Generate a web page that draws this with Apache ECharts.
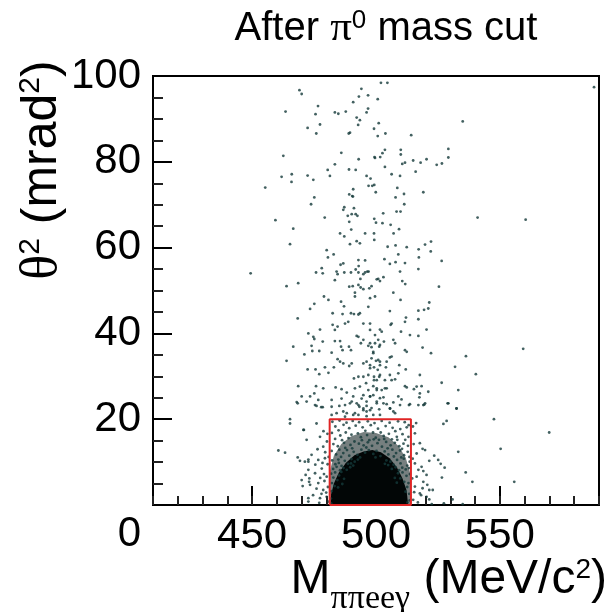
<!DOCTYPE html>
<html><head><meta charset="utf-8">
<script src="https://cdn.jsdelivr.net/npm/echarts@6/dist/echarts.min.js"></script>
<style>html,body{margin:0;padding:0;background:#fff}#c{width:616px;height:612px}</style>
</head><body><div id="c"></div>
<script>
// ---- data ----
const xRange = [410, 590];
const yRange = [0, 100];
const xTickLabels = [450, 500, 550];
const yTickLabels = [0, 20, 40, 60, 80, 100];
const cutBox = [[481.3, 0], [481.3, 20], [514.1, 20], [514.1, 0], [481.3, 0]];
// outline of the saturated (solid black) core of the distribution
const coreOutline = [[481.6,0],[481.9,2.5],[483,5],[485,7.5],[487.8,9.8],[491.3,11.6],[495,12.5],[498.5,12.8],[502,12.3],[505.5,10.9],[508.4,8.8],[510.7,6.2],[512.3,3.5],[513,0]];
// outline of the dense (partly filled) region around the core
const haloOutline = [[481.4,0],[481.4,8],[483,11.5],[486,14.2],[490,16],[495,17],[500,16.8],[505,15.8],[509,13.8],[512,11],[514,7],[514,0]];
// individually resolved events
const upperPoints = [[469.1,96.7],[470,95.8],[494.1,97],[493.1,95.2],[496.8,95.5],[490.8,93.9],[500.7,94.6],[476.6,93],[463.5,91.7],[475.6,91.1],[483.4,91.5],[484.8,91.2],[487.8,91.7],[496.8,92.4],[496.2,91.5],[492.2,90.3],[493.5,89.7],[492.8,88.6],[501.1,89],[499.2,87.7],[503.8,86.6],[500.7,86],[477.4,88.7],[472.4,87.9],[475.9,86.6],[489.5,86.8],[489,86.6],[514.2,86.2],[502,98.4],[504.6,98.4],
[462.6,81.4],[486,82.1],[493,80.6],[499.4,81.1],[499.6,80.9],[501.7,81.1],[502.6,82],[503.6,82.8],[510,82.8],[510,81.7],[503.6,78.8],[510.6,79.5],[511.7,79.8],[515,80.3],[518,79.8],[520.4,80.6],[524.5,79.3],[526.6,79.6],[529.2,81],[529.2,83],[516,77.7],[483.4,79.4],[480.5,78.1],[481.4,76.7],[489.1,78.2],[491.8,78.1],[466,77.1],[465.9,75.3],[461.9,76.5],[472.4,76.8],[474.7,75.8],[496.2,76.7],[497.8,76.1],[498.5,74.4],[497,74.4],[499.3,74.6],[506.3,77.1],[509.7,76.7],[508.6,73.9],[511.3,72.5],[507.9,71.7],[511.4,70.1],[508.3,68.4],[509.9,68.4],[519.1,72.9],[455.3,74],[475.1,71.7],[473.8,70.1],[489.2,72.4],[490.4,72],[490.7,71.9],[490.8,73.6],[499.9,72.9],[487.2,69.4],[486.8,68.8],[488.6,67.4],[491.1,69.2],[490.2,67.8],[491.8,67.8],[492.5,67.4],[489.2,66],[499.3,66.7],[500,65.8],[502.9,68],[502.6,65.7],[505.9,65.3],[479.3,67],[459.4,66.4],[466.6,64.4],[485.5,63.3],[487.2,62.6],[490,64.2],[489.5,60.8],[492.2,61.5],[493.5,61],[495.6,63.3],[499.2,63.3],[499.3,61.8],[504.7,60.2],[507.9,60.5],[507.1,63.3],[509.3,64.3],[512.4,60.1],[509,58.4],[517.2,59.6],[517.3,57.7],[519.8,60.7],[522.2,61.4],[522.1,59.1],[526.5,56.9],[465.3,60.8],[480.1,59.4],[482.9,58.4],[480.6,57.7],[485.7,56],[486.8,56.3],[492.9,57.1],[493,55.7],[495.6,57],[492.9,54.2],[495.6,54.2],[497,54.4],[503.4,57.3],[505.6,56.2],[507.9,56.6],[511.7,56.4],[509.7,54.4],[503,53.1],[517.1,55],[449.4,54],[475.8,54.2],[478.1,55.2],[478.5,54],[484.1,54.4],[484.5,53.8],[487.2,54.2],[489.9,54.2],[491.8,54.9],[493.7,52.7],[494.9,53.8],[496.5,54.4],[500.3,52.6],[500.9,52.7],
[588,97.4],[535,89.4],[541,67],[560.4,66.5]];
const middlePoints = [[463.9,51],[468.6,51.7],[475.1,46.9],[473.4,45.7],[479,48.6],[480.8,47.8],[483.4,52.4],[489.2,50.9],[490.6,51],[492.9,51.3],[493.8,50.7],[498.2,51],[501.6,52.2],[485.9,47.4],[487.1,46.3],[491.5,48.6],[491.5,49.5],[494.9,50.3],[497.3,50.5],[468.4,43.5],[482.5,44.7],[486.5,44.5],[487.5,42.3],[488.8,42.7],[489.9,44.7],[491.1,44.5],[492.9,44.4],[493.5,44.7],[494.9,42.3],[497.6,42.3],[496.9,46.2],[497.6,48.2],[482.5,42],[484.5,41.6],[483.4,40.8],[477.4,40.9],[472.7,40],[474.7,39.2],[475.1,38.7],[474,37.1],[478.5,38.1],[466.6,36.9],[483.4,38.2],[485.5,38.2],[485.9,36.9],[486.5,36.1],[489.1,36.9],[489.9,36.1],[492.2,39.4],[492.9,39.2],[494.9,38.5],[493.9,37.7],[496.9,37.1],[497.6,37.7],[498.2,36.8],[498.9,35.4],[500.9,38.5],[501.6,37.3],[471.1,35.1],[474.3,35.9],[477.1,35.9],[463.9,33.6],[482.1,35.5],[484.5,34],[485.5,33.4],[486.8,33],[483,32.1],[489.2,32.4],[490.2,33],[494.9,33],[496.2,33.4],[497.6,32.6],[499.2,32.1],[501.6,32.6],[500.9,33.8],[498.2,34.2],[472.4,31.6],[475.6,31.6],[479.4,32.1],[477.1,30.5],[480.8,30.8],[491.1,29.5],[492.9,29.9],[494.9,29.9],[496.9,30.3],[499.2,29.1],[500.3,29.1],[501.3,29.9],[468.6,27.7],[475.8,27.7],[475.1,26],[478.7,27.2],[483.7,27.4],[486.1,27],[488.2,26.2],[491.5,27.2],[493.5,27.6],[496,28.4],[496.9,26.8],[498.9,27.7],[494.9,25.6],[500.3,27.2],[470,25.3],[473.4,25.3],[476.7,24.5],[482.1,24.5],[468,24],[476,23.1],[478.5,22.8],[482.1,22.9],[485.2,23.1],[487.5,23.3],[490.2,24.1],[492.2,23.7],[493.3,22.9],[494.9,22.1],[496.2,23.1],[498.2,22.6],[500.3,23.7],[501.3,22.3],[486.1,24.8],[490.8,25.3],[494.2,24.8],[497.6,25.3],[488.2,21.4],[491.5,21.4],[492.9,21],[496.2,21.8],[498.9,21],
[525.4,50.9],[510.6,52.2],[511.8,51.5],[507,49.5],[499.6,48.6],[509.9,47.8],[517.1,45.3],[519.4,45.5],[521.1,45.8],[521.5,47.2],[505.6,45.2],[511.7,42.7],[512.1,43.7],[506.3,42.3],[505.9,42],[517.1,43.3],[510.1,40.4],[513.7,39.6],[517.1,39.4],[520.4,40.9],[502.3,40.4],[501.6,40.9],[499.6,39.6],[497.6,40.8],[503.2,38.1],[507,38.5],[507.7,37.7],[501.3,36.9],[511.7,36.1],[512.4,35.7],[518.8,36.7],[522.2,35.4],[559.4,36.4],[536.3,34.7],[499.6,37.7],[498.9,35.7],[500,33.6],[501.6,33.4],[504.3,33.4],[505.6,34.4],[506.3,34.6],[504,32.1],[509.4,32.6],[512,31.6],[509,30.7],[517.7,30.3],[531.9,32.2],[540.3,30.5],[500.7,31.5],[501.6,30.3],[497.6,31.9],[499.2,29.9],[505.6,30.3],[506.3,29.1],[507.7,29.3],[503.6,29.1],[511.7,27.7],[512.4,27.4],[515.3,27],[516.4,27.6],[518.4,27.7],[521.1,26.4],[517.7,26],[517.5,25.1],[526.5,28.5],[533.2,26.8],[503.6,27.2],[502.3,26.8],[504.3,27.2],[500.3,26.8],[498.9,25.6],[497.6,25.3],[501.6,24.9],[503,25.1],[500.3,24.1],[504.3,23.5],[509,25.3],[510.3,24.6],[519.1,23.3],[513.3,23.3],[507,23.9],[505.6,22.5],[507,21.8],[528.9,23.7],[532.5,22.5],[547.6,20],
[475.4,23.3],[477.9,22.8],[482.1,21],[484.1,21.4],[486.8,21.8],[489.5,23.7],[492.9,23.3],[494.9,22.5],[496.2,24.1],[497.6,22.1],[503,23.7],[505.7,22.5],[509.7,23.3],[513.7,23.5],[517.1,23.3],[519.8,23.7],[490.8,21],[501.6,21],[507.7,21.4],[496.2,20.7],[487.5,20.6]];
const lowerPoints = [[468.4,23.7],[472,24.1],[465.3,20],[465.3,19],[470.9,17.5],[460.6,12.7],[463.3,12.2],[468.4,11.1],[469.3,10.3],[472.7,10.6],[472.7,10.1],[471.6,7],[473.1,6.2],[473,5.4],[470.4,4.4],[472.7,1.6],[472.7,0.8],
[519.5,23.4],[529.2,23.7],[532.5,22.5],[527.2,18.9],[528.5,19.6],[569.9,16.9],[518.8,13.1],[533.2,12.4],[550.3,13.1],[523.5,11.5],[521.5,10.3],[525.1,10.5],[526.1,9.6],[527.7,8.7],[519.1,7.9],[520.4,7],[536.2,7.6],[538.9,5.4],[526.6,6.4],[555.8,5.4],[520.7,4.7],[518.8,3.9],[521.5,3.5],[522.9,3.5],[518.2,2.3],[521.5,1.3],[530.9,1.3],[527.4,0.4],[535,0.2],[522.5,0.2],
[470.7,17.5],[476,19],[472,15.2],[477.4,15.9],[478.7,13.6],[474,11.7],[476.7,10.5],[479.4,10.9],[472.7,8.2],[475.4,7.4],[478.1,8.5],[480.1,6.6],[473.4,4.7],[476.7,5.1],[478.7,3.5],[474.6,2.3],[477.4,1.6],[480.1,1.9],[471.3,10.1],[470,5.8],
[479.5,12.3],[480.5,9.5],[479,7.2],[480.6,4.2],[479.2,5.6],[478,2.6],[480.8,0.8],[476,3.8],[477.5,6.3],[480.2,14.8],[478.8,17.2],[476.4,13],[479.9,2.9],[477.1,0.5],[475.5,9.4],[480.9,11.2],[478.4,9.8],[480.4,16.6],
[515.7,16.7],[517.7,14.4],[516.4,12],[519.8,12.8],[515.7,9.7],[518.4,8.9],[516.4,6.6],[519.1,5.4],[515.7,4.3],[517.7,2.7],[520.4,1.9],[515,1.2],[517.1,8.2],[514.8,10.8],[515.4,3],[514.6,6.2],[516.9,0.6],[515.2,14.2],[514.9,18.3],[516.2,19.1]];
const boxPoints = [[482.4,19.4],[485.3,19.7],[488.1,19.2],[490.6,19.6],[493.2,19.3],[496.7,19.5],[499.4,19.1],[502.3,19.6],[505.5,19.2],[508.9,19.5],[511.6,19.3],[513.2,18.6],
[483.6,18.3],[486.9,18.7],[489.2,17.9],[491.8,18.5],[494.6,18.1],[497.9,18.6],[500.8,17.8],[503.9,18.4],[506.7,18],[509.8,17.7],[512.4,18.1],[484.9,17.4],[495.7,17.3],[501.9,16.9],[507.8,17.2],
[482.2,16.8],[485.6,16.2],[487.8,16.9],[490.1,16.4],[492.7,16.7],[493.9,15.8],[496.4,16.3],[498.8,16.9],[499.9,15.7],[503.1,16.1],[505.2,16.6],[508.4,15.9],[510.7,16.5],[513.1,15.9],[488.9,15.6],[486.3,15.1],[483.5,15.4],[511.8,15.2],[506.4,15.3],[501.2,15.2],[497.3,15.1],
[482.8,14.2],[484.6,13.7],[487.1,14.5],[489.7,14],[491.3,14.8],[493.1,14.3],[495,13.9],[496.7,14.6],[498.4,13.8],[500.6,14.4],[502.4,13.6],[504.1,14.7],[505.9,13.9],[507.6,14.5],[509.4,13.7],[511.1,14.3],[512.9,13.8],[490.4,13.2],[494.3,15.1],[499.1,15.3],[503.3,15.4],[508.6,15.2],
[482.1,12.6],[483.9,11.8],[485.2,12.9],[486.8,12.1],[488.3,12.8],[489.2,11.5],[491,12.4],[492.5,11.7],[494.1,12.9],[495.6,12.2],[497.1,12.8],[498.9,11.9],[500.2,12.6],[501.8,11.4],[503.5,12.5],[505,11.8],[506.6,12.9],[508.1,12.1],[509.7,12.7],[511.3,11.6],[512.8,12.4],[513.5,11.2],[487.6,13.3],[496.1,13.4],[504.7,13.2],[510.5,13.1],[485.9,11.2],[493.6,11.1],[499.8,11.1],[507.2,11.3],
[482.3,10.4],[483.6,9.5],[484.8,10.6],[486.1,9.1],[487.4,10.3],[488.7,9.6],[490.1,10.7],[491.4,10.1],[492.7,10.6],[504.2,10.4],[505.8,10.1],[507.1,9.4],[508.5,10.5],[509.9,9.7],[511.2,10.8],[512.6,9.2],[513.6,10.1],[482.7,8.4],[484.1,8.9],[485.5,8.1],[486.9,8.6],[488.2,8.2],[489.6,8.8],[506.4,8.4],[507.9,8.8],[509.3,8.1],[510.6,8.7],[512,8.3],[513.3,8.6],[485,9.8],[510.2,11.1],
[481.9,7.3],[482.8,6.4],[483.5,7.6],[484.4,5.8],[485.1,6.9],[486,7.7],[482.2,5.1],[483.3,4.4],[484.7,4.1],[508.9,7.4],[509.8,6.2],[510.7,7.6],[511.4,5.4],[512.3,6.8],[513.1,5.1],[513.7,7.2],[512.6,4.2],[511.9,3.1],[513.4,2.6],[482,3.2],[481.8,1.5],[513.6,1.1],[512.7,0.6],[481.9,0.4],[487.1,6.1],[507.6,6.3],[508.4,5.2],[486.4,4.9],[489.9,9.7],[490.8,9.2],[503.6,9.6],[504.9,9.3]];

// ---- chart ----
const FONT = 'Liberation Sans';
const SERIF = 'Liberation Serif';
const chart = echarts.init(document.getElementById('c'), null, {renderer: 'canvas'});
function polygonSeries(outline, fill) {
  return {
    type: 'custom', coordinateSystem: 'cartesian2d', silent: true, z: 1,
    data: [[outline[0][0], outline[0][1]]],
    renderItem: function (params, api) {
      return {type: 'polygon', shape: {points: outline.map(p => api.coord(p))}, style: {fill: fill}};
    }
  };
}
const dotStyle = {color: '#143a3a'};
chart.setOption({
  animation: false,
  backgroundColor: '#fff',
  grid: {left: 153, top: 76, width: 446, height: 429, show: true, borderColor: '#000', borderWidth: 2, backgroundColor: 'transparent'},
  xAxis: [{
    type: 'value', min: xRange[0], max: xRange[1], position: 'bottom',
    axisLine: {show: false}, splitLine: {show: false},
    axisTick: {show: true, inside: true, length: 19, customValues: xTickLabels, lineStyle: {color: '#000', width: 2}},
    axisLabel: {customValues: xTickLabels, fontSize: 42, margin: 10, color: '#000', fontFamily: FONT}
  }, {
    type: 'value', min: xRange[0], max: xRange[1], interval: 10, position: 'bottom',
    axisLine: {show: false}, splitLine: {show: false}, axisLabel: {show: false},
    axisTick: {show: true, inside: true, length: 9, lineStyle: {color: '#222', width: 2}}
  }],
  yAxis: [{
    type: 'value', min: yRange[0], max: yRange[1], interval: 20,
    axisLine: {show: false}, splitLine: {show: false},
    axisTick: {show: true, inside: true, length: 19, lineStyle: {color: '#000', width: 2}},
    minorTick: {show: true, splitNumber: 4, length: 10, lineStyle: {color: '#222', width: 2}},
    axisLabel: {
      fontSize: 42, margin: 12, color: '#000', fontFamily: FONT,
      formatter: v => (yTickLabels.indexOf(v) >= 0 ? (v === 0 ? '{z|0}' : String(v)) : ''),
      rich: {z: {fontSize: 42, fontFamily: FONT, color: '#000', padding: [58, 0, 0, 0]}}
    }
  }],
  series: [
    polygonSeries(haloOutline, 'rgba(5,22,22,0.55)'),
    polygonSeries(coreOutline, '#020606'),
    {type: 'scatter', data: upperPoints, symbol: 'circle', symbolSize: 2.8, itemStyle: dotStyle, silent: true, z: 3},
    {type: 'scatter', data: middlePoints, symbol: 'circle', symbolSize: 2.8, itemStyle: dotStyle, silent: true, z: 3},
    {type: 'scatter', data: lowerPoints, symbol: 'circle', symbolSize: 2.8, itemStyle: dotStyle, silent: true, z: 3},
    {type: 'scatter', data: boxPoints, symbol: 'circle', symbolSize: 2.8, itemStyle: dotStyle, silent: true, z: 3},
    {type: 'line', data: cutBox, symbol: 'none', lineStyle: {color: '#e02424', width: 2}, silent: true, z: 5}
  ],
  graphic: [
    {type: 'text', x: 386, y: 29, silent: true, style: {
      text: 'After {s|π}{p|0} mass cut', align: 'center', verticalAlign: 'middle',
      font: '40px ' + FONT, fill: '#000',
      rich: {s: {fontFamily: SERIF, fontSize: 43}, p: {fontSize: 26, verticalAlign: 'top'}}
    }},
    {type: 'text', x: 42, y: 170, rotation: Math.PI / 2, silent: true, style: {
      text: '{s|θ}{p|2} (mrad{p|2})', align: 'center', verticalAlign: 'middle',
      font: '50px ' + FONT, fill: '#000',
      rich: {s: {fontFamily: SERIF, fontSize: 52}, p: {fontSize: 30, verticalAlign: 'top'}}
    }},
    {type: 'text', x: 607, y: 580, silent: true, style: {
      text: '{m|M}{b|ππeeγ}{m| (MeV/c}{p|2}{m|)}', align: 'right', verticalAlign: 'middle',
      fill: '#000',
      rich: {
        m: {fontSize: 48, fontFamily: FONT, lineHeight: 48, verticalAlign: 'top'},
        b: {fontSize: 34, fontFamily: SERIF, lineHeight: 34, verticalAlign: 'top', padding: [26, 0, 0, 0]},
        p: {fontSize: 28, fontFamily: FONT, lineHeight: 28, verticalAlign: 'top'}
      }
    }}
  ]
});
</script></body></html>
